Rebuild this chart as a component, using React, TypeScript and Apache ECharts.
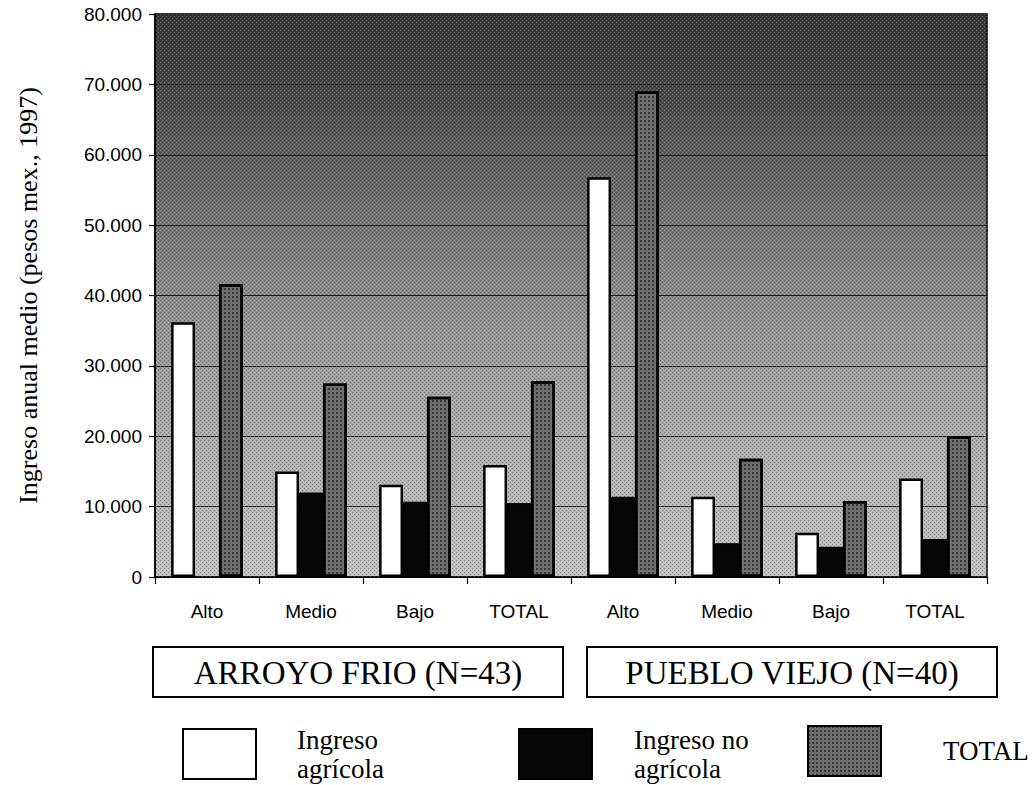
import React, { useEffect, useRef } from "react";
import * as echarts from "echarts";

// Income strata per community, in pesos mex. (1997)
const communities = ["ARROYO FRIO (N=43)", "PUEBLO VIEJO (N=40)"];
const strata = ["Alto", "Medio", "Bajo", "TOTAL"];
const seriesNames = ["Ingreso agrícola", "Ingreso no agrícola", "TOTAL"];
const legendLabels = ["Ingreso\nagrícola", "Ingreso no\nagrícola", "TOTAL"];

const ingresoAgricola = [36200, 15000, 13100, 15900, 56800, 11400, 6300, 14000];
const ingresoNoAgricola = [null, 12000, 10700, 10500, 11400, 4800, 4300, 5400];
const ingresoTotal = [41600, 27500, 25600, 27800, 69000, 16800, 10800, 20000];

const yTicks = [0, 10000, 20000, 30000, 40000, 50000, 60000, 70000, 80000];

const categories = communities.flatMap((c, i) => strata.map((s) => `${i}|${s}`));

const SANS = "Liberation Sans, Arial, sans-serif";
const SERIF = "Liberation Serif, Times New Roman, serif";

// Grid placement (pixels)
const GRID = { left: 155, right: 47, top: 14, bottom: 208 };

function makeHalftone(): HTMLCanvasElement {
  const c = document.createElement("canvas");
  c.width = 4;
  c.height = 4;
  const ctx = c.getContext("2d")!;
  ctx.fillStyle = "rgba(0,0,0,0.3)";
  ctx.fillRect(0, 0, 1, 1);
  ctx.fillRect(2, 2, 1, 1);
  ctx.fillStyle = "rgba(255,255,255,0.25)";
  ctx.fillRect(2, 0, 1, 1);
  ctx.fillRect(0, 2, 1, 1);
  return c;
}

export default function App() {
  const ref = useRef<HTMLDivElement>(null);

  useEffect(() => {
    if (!ref.current) return;
    const chart = echarts.init(ref.current, null, { renderer: "svg" });
    const W = 1034;
    const H = 785;
    const plotW = W - GRID.left - GRID.right;
    const plotH = H - GRID.top - GRID.bottom;
    const halftone = makeHalftone();

    const boxTop = 647;
    const boxH = 50;
    const boxes = [
      { x: 153, w: 410 },
      { x: 587, w: 410 },
    ];

    const legendPos = [
      { left: 177, pad: 36 },
      { left: 513, pad: 37 },
      { left: 802, pad: 57 },
    ];

    const option: echarts.EChartsOption = {
      animation: false,
      backgroundColor: "#ffffff",
      grid: {
        ...GRID,
        show: true,
        borderColor: "#000",
        borderWidth: 1.5,
        backgroundColor: new echarts.graphic.LinearGradient(0, 0, 0, 1, [
          { offset: 0, color: "#383838" },
          { offset: 0.12, color: "#444444" },
          { offset: 0.24, color: "#5c5c5c" },
          { offset: 0.4, color: "#7a7a7a" },
          { offset: 0.55, color: "#939393" },
          { offset: 0.72, color: "#a8a8a8" },
          { offset: 0.88, color: "#b8b8b8" },
          { offset: 1, color: "#c2c2c2" },
        ]),
      },
      xAxis: {
        type: "category",
        data: categories,
        axisLine: { lineStyle: { color: "#000", width: 1.5 } },
        axisTick: { show: true, length: 7, lineStyle: { color: "#000", width: 1.2 } },
        axisLabel: {
          color: "#000",
          fontFamily: SANS,
          fontSize: 19,
          margin: 25,
          formatter: (v: string) => v.split("|")[1],
        },
      },
      yAxis: {
        type: "value",
        min: 0,
        max: 80000,
        interval: 10000,
        name: "Ingreso anual medio (pesos mex., 1997)",
        nameLocation: "middle",
        nameGap: 114,
        nameTextStyle: { color: "#000", fontFamily: SERIF, fontSize: 26 },
        axisLine: { show: true, lineStyle: { color: "#000", width: 1.5 } },
        axisTick: { show: true, length: 6, lineStyle: { color: "#000", width: 1.2 } },
        axisLabel: {
          color: "#000",
          fontFamily: SANS,
          fontSize: 19,
          margin: 13,
          customValues: yTicks,
          formatter: (v: number) =>
            v === 0 ? "0" : `${Math.floor(v / 1000)}.${String(v % 1000).padStart(3, "0")}`,
        },
        splitLine: { show: true, lineStyle: { color: "#1e1e1e", width: 1 } },
      },
      legend: seriesNames.map((name, i) => ({
        data: [name],
        left: legendPos[i].left,
        top: 720,
        orient: "horizontal",
        icon: "rect",
        itemWidth: 73,
        itemHeight: 50,
        selectedMode: false,
        formatter: () => legendLabels[i],
        textStyle: {
          color: "#000",
          fontFamily: SERIF,
          fontSize: 27,
          lineHeight: 29,
          padding: [0, 0, 0, legendPos[i].pad],
        },
      })),
      series: [
        {
          name: seriesNames[0],
          type: "bar",
          data: ingresoAgricola,
          barGap: "0%",
          barCategoryGap: "31%",
          itemStyle: { color: "#ffffff", borderColor: "#000", borderWidth: 2.5 },
        },
        {
          name: seriesNames[1],
          type: "bar",
          data: ingresoNoAgricola,
          itemStyle: { color: "#060606", borderColor: "#000", borderWidth: 1 },
        },
        {
          name: seriesNames[2],
          type: "bar",
          data: ingresoTotal,
          itemStyle: {
            color: "#6e6e6e",
            borderColor: "#000",
            borderWidth: 2.5,
            decal: {
              symbol: "rect",
              symbolSize: 1,
              color: "rgba(15,15,15,0.55)",
              dashArrayX: [2, 2],
              dashArrayY: [2, 2],
              rotation: 0,
            },
          },
        },
      ],
      graphic: [
        // halftone texture over the plot background
        {
          type: "rect",
          silent: true,
          z: 1,
          shape: { x: GRID.left, y: GRID.top, width: plotW, height: plotH },
          style: {
            fill: { image: halftone, repeat: "repeat", imageWidth: 4, imageHeight: 4 } as any,
          },
        },
        ...boxes.map((b, i) => ({
          type: "group",
          children: [
            {
              type: "rect",
              shape: { x: b.x, y: boxTop, width: b.w, height: boxH },
              style: { fill: "#fff", stroke: "#000", lineWidth: 2 },
            },
            {
              type: "text",
              x: b.x + b.w / 2,
              y: boxTop + boxH / 2 + 1,
              style: {
                text: communities[i],
                fill: "#000",
                font: `33px ${SERIF}`,
                align: "center",
                verticalAlign: "middle",
              },
            },
          ],
        })),
      ] as any,
    };

    chart.setOption(option);
    return () => chart.dispose();
  }, []);

  return (
    <div
      ref={ref}
      style={{ position: "fixed", left: 0, top: 0, width: 1034, height: 785 }}
    />
  );
}
